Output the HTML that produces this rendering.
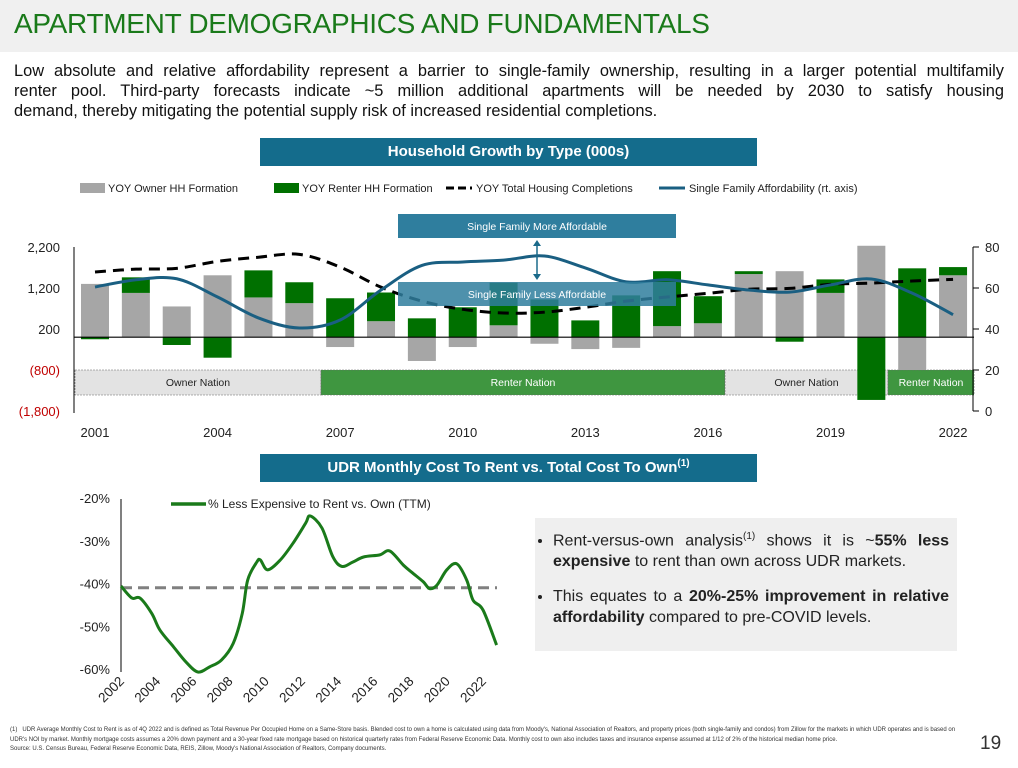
<!DOCTYPE html>
<html><head><meta charset="utf-8"><style>
body{margin:0;width:1018px;height:768px;overflow:hidden;background:#fff;font-family:"Liberation Sans",sans-serif;position:relative}
.abs{position:absolute}
#hdr{left:0;top:0;width:1018px;height:52px;background:#f0f0f0}
#title{left:14px;top:8px;font-size:28px;color:#1a7a1a;letter-spacing:-0.3px;white-space:nowrap}
#intro{left:14px;top:61px;width:990px;font-size:16.4px;line-height:20px;color:#111}
#intro span{display:block;white-space:nowrap;text-align:justify;text-align-last:justify}
#intro span.last{text-align-last:left}
.bar{background:#146c8c;color:#fff;font-weight:bold;font-size:15px;text-align:center;line-height:28px}
#note{left:535px;top:518px;width:422px;height:133px;background:#efefef}
#note ul{margin:0;padding:8px 8px 0 18px;font-size:16px;line-height:21px;color:#222;text-align:justify}
#note li{margin-bottom:14px}
#foot{left:10px;top:726px;width:950px;font-size:6px;line-height:9.5px;color:#333}
#pg{left:980px;top:733px;font-size:19px;color:#333}
</style></head><body>
<div id="hdr" class="abs"></div>
<div id="title" class="abs">APARTMENT DEMOGRAPHICS AND FUNDAMENTALS</div>
<div id="intro" class="abs"><span style="white-space:normal">Low absolute and relative affordability represent a barrier to single-family ownership, resulting in a larger potential multifamily</span><span style="white-space:normal">renter pool. Third-party forecasts indicate ~5 million additional apartments will be needed by 2030 to satisfy housing</span><span class="last">demand, thereby mitigating the potential supply risk of increased residential completions.</span></div>
<div class="abs bar" style="left:260px;top:138px;width:497px;height:28px">Household Growth by Type (000s)</div>
<div class="abs bar" style="left:260px;top:454px;width:497px;height:28px">UDR Monthly Cost To Rent vs. Total Cost To Own<sup style="font-size:10px;line-height:0">(1)</sup></div>
<svg class="abs" style="left:0;top:0" width="1018" height="768" id="svg"></svg>
<div id="note" class="abs"><ul>
<li>Rent-versus-own analysis<sup style="font-size:10px">(1)</sup> shows it is ~<b>55% less expensive</b> to rent than own across UDR markets.</li>
<li>This equates to a <b>20%-25% improvement in relative affordability</b> compared to pre-COVID levels.</li></ul></div>
<div id="foot" class="abs">(1)&nbsp;&nbsp;&nbsp;UDR Average Monthly Cost to Rent is as of 4Q 2022 and is defined as Total Revenue Per Occupied Home on a Same-Store basis. Blended cost to own a home is calculated using data from Moody's, National Association of Realtors, and property prices (both single-family and condos) from Zillow for the markets in which UDR operates and is based on UDR's NOI by market. Monthly mortgage costs assumes a 20% down payment and a 30-year fixed rate mortgage based on historical quarterly rates from Federal Reserve Economic Data. Monthly cost to own also includes taxes and insurance expense assumed at 1/12 of 2% of the historical median home price.<br>Source: U.S. Census Bureau, Federal Reserve Economic Data, REIS, Zillow, Moody's National Association of Realtors, Company documents.</div>
<div id="pg" class="abs">19</div>
<script>
const years=[2001,2002,2003,2004,2005,2006,2007,2008,2009,2010,2011,2012,2013,2014,2015,2016,2017,2018,2019,2020,2021,2022];
const ownerHH=[1300,1080,750,1510,970,830,-240,390,-580,-240,290,-160,-290,-260,270,340,1540,1610,1080,2230,-800,1510];
const renterHH=[-50,380,-190,-500,660,510,950,700,460,730,1040,920,410,1020,1340,660,70,-110,330,-1530,1680,200];
const completions=[1590,1660,1680,1850,1950,2020,1710,1220,880,680,590,610,730,880,980,1070,1170,1190,1290,1320,1370,1410];
const afford=[60.5,64,64.5,55.6,45.4,40.5,44.4,59,71,72.7,73.6,75.6,69.8,63,64,61.5,59,58,61.5,64.4,57.5,47];
const leftTicks=[2200,1200,200,-800,-1800];
const leftLabels=["2,200","1,200","200","(800)","(1,800)"];
const rightTicks=[80,60,40,20,0];
const xLabelYears=[2001,2004,2007,2010,2013,2016,2019,2022];
const rentYears=[2002.0,2002.6,2003.05,2003.7,2004.15,2004.9,2005.6,2006.25,2006.9,2007.55,2008.2,2008.7,2009.0,2009.5,2009.7,2010.1,2010.8,2011.5,2012.2,2012.45,2013.1,2013.7,2014.2,2014.8,2015.4,2016.3,2016.85,2017.6,2018.1,2018.7,2019.05,2019.45,2020.0,2020.55,2021.1,2021.45,2022.0,2022.75];
const rentVals=[-40.6,-43.4,-43.4,-47,-50.9,-54.8,-58.4,-60.7,-59.5,-57.9,-54,-47,-39.2,-35,-34.5,-36.8,-34.5,-30.6,-25.9,-24.2,-27,-33.7,-36,-35,-33.8,-33.3,-32.4,-35.7,-37.5,-39.6,-41.2,-40.4,-36.8,-35.4,-39.2,-43.9,-46.2,-54.4];
const rentAvg=-41;
const rentTicks=[-20,-30,-40,-50,-60];
const rentXLabels=[2002,2004,2006,2008,2010,2012,2014,2016,2018,2020,2022];

const svg=document.getElementById('svg');const NS='http://www.w3.org/2000/svg';
function mk(t,a,p){const e=document.createElementNS(NS,t);for(const k in a)e.setAttribute(k,a[k]);(p||svg).appendChild(e);return e;}
const F='"Liberation Sans",sans-serif';
const X=y=>95+(y-2001)*40.86;
const YL=v=>337.2-v*0.041;
const YR=v=>411-v*2.05;
const bands=[[75,321,'Owner Nation','#e3e3e3','#222'],[321,725,'Renter Nation','#3f9640','#fff'],[725,888,'Owner Nation','#e3e3e3','#222'],[888,974,'Renter Nation','#3f9640','#fff']];
bands.forEach(b=>{const r=mk('rect',{x:b[0],y:370,width:b[1]-b[0],height:25,fill:b[3],stroke:'#666','stroke-dasharray':'2,1','stroke-width':0.6});


const t=mk('text',{x:(b[0]+b[1])/2,y:386,'text-anchor':'middle','font-size':10.5,fill:b[4],'font-family':F});t.textContent=b[2];

});
years.forEach((yr,i)=>{const cx=X(yr),w=28;let pos=0,neg=0;
[[ownerHH[i],'#a6a6a6','owner'],[renterHH[i],'#007000','renter']].forEach(s=>{const v=s[0];let y0,y1;
if(v>=0){y0=YL(pos+v);y1=YL(pos);pos+=v;}else{y0=YL(neg);y1=YL(neg+v);neg+=v;}
const r=mk('rect',{x:cx-w/2,y:y0,width:w,height:Math.max(0,y1-y0),fill:s[1]});

});});
mk('line',{x1:74,x2:974,y1:YL(0),y2:YL(0),stroke:'#000','stroke-width':1.2});
function smooth(pts){let d='M'+pts[0][0]+','+pts[0][1];for(let i=0;i<pts.length-1;i++){const p0=pts[i-1]||pts[i],p1=pts[i],p2=pts[i+1],p3=pts[i+2]||p2;
d+=' C'+(p1[0]+(p2[0]-p0[0])/6)+','+(p1[1]+(p2[1]-p0[1])/6)+' '+(p2[0]-(p3[0]-p1[0])/6)+','+(p2[1]-(p3[1]-p1[1])/6)+' '+p2[0]+','+p2[1];}return d;}
const cl=mk('path',{d:smooth(years.map((y,i)=>[X(y),YL(completions[i])])),fill:'none',stroke:'#000','stroke-width':3,'stroke-dasharray':'11,7'});


const al=mk('path',{d:smooth(years.map((y,i)=>[X(y),YR(afford[i])])),fill:'none',stroke:'#1a5f82','stroke-width':3});


[[214,'Single Family More Affordable',1],[282,'Single Family Less Affordable',0.85]].forEach(b=>{const r=mk('rect',{x:398,y:b[0],width:278,height:24,fill:'#2f7e9e','fill-opacity':b[2]});


const t=mk('text',{x:537,y:b[0]+16,'text-anchor':'middle','font-size':10.5,fill:'#fff','font-family':F});t.textContent=b[1];});
mk('line',{x1:537,x2:537,y1:242,y2:278,stroke:'#1a6a8a','stroke-width':1.5});
mk('path',{d:'M533,246 L537,240 L541,246 Z M533,274 L537,280 L541,274 Z',fill:'#1a6a8a'});
mk('line',{x1:74,x2:74,y1:247,y2:413,stroke:'#000'});
leftTicks.forEach((v,i)=>{const t=mk('text',{x:60,y:YL(v)+5,'text-anchor':'end','font-size':13,fill:v<0?'#c00000':'#222','font-family':F});t.textContent=leftLabels[i];

});
mk('line',{x1:973,x2:973,y1:247,y2:411,stroke:'#000'});
rightTicks.forEach(v=>{mk('line',{x1:973,x2:979,y1:YR(v),y2:YR(v),stroke:'#000'});const t=mk('text',{x:985,y:YR(v)+5,'font-size':13,fill:'#222','font-family':F});t.textContent=v;

});
xLabelYears.forEach(y=>{const t=mk('text',{x:X(y),y:437,'text-anchor':'middle','font-size':13,fill:'#222','font-family':F});t.textContent=y;

});
const leg=[[108,'sq','#a6a6a6','YOY Owner HH Formation'],[302,'sq','#007000','YOY Renter HH Formation'],[476,'dash','#000','YOY Total Housing Completions'],[689,'line','#1a5f82','Single Family Affordability (rt. axis)']];
leg.forEach(l=>{if(l[1]==='sq')mk('rect',{x:l[0]-28,y:183,width:25,height:10,fill:l[2]});else mk('line',{x1:l[0]-30,x2:l[0]-4,y1:188,y2:188,stroke:l[2],'stroke-width':3,'stroke-dasharray':l[1]==='dash'?'8,4':'none'});
const t=mk('text',{x:l[0],y:192,'font-size':11,fill:'#222','font-family':F});t.textContent=l[3];

});
const BX=y=>121+(y-2002)*18.1;
const BY=v=>498+(-20-v)*4.275;
mk('line',{x1:121,x2:121,y1:499,y2:672,stroke:'#000'});
rentTicks.forEach(v=>{const t=mk('text',{x:110,y:BY(v)+5,'text-anchor':'end','font-size':13,fill:'#222','font-family':F});t.textContent=v+'%';

});
rentXLabels.forEach(y=>{const x=BX(y)+4;const t=mk('text',{x:x,y:682,'text-anchor':'end','font-size':13.5,fill:'#222','font-family':F,transform:'rotate(-45 '+x+' 682)'});t.textContent=y;

});
const av=mk('line',{x1:121,x2:497,y1:BY(rentAvg),y2:BY(rentAvg),stroke:'#808080','stroke-width':3,'stroke-dasharray':'11,6'});


const rl=mk('path',{d:smooth(rentYears.map((y,i)=>[BX(y),BY(rentVals[i])])),fill:'none',stroke:'#1a7a1a','stroke-width':3});


mk('line',{x1:171,x2:206,y1:504,y2:504,stroke:'#1a7a1a','stroke-width':3.5});
const lt=mk('text',{x:208,y:508,'font-size':12,fill:'#222','font-family':F});lt.textContent='% Less Expensive to Rent vs. Own (TTM)';


</script>
</body></html>
